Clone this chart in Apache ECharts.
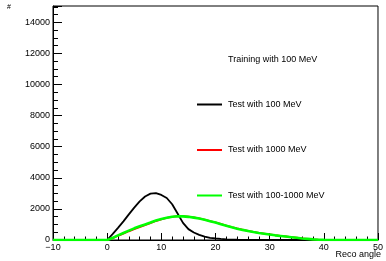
<!DOCTYPE html>
<html>
<head>
<meta charset="utf-8">
<script src="https://cdn.jsdelivr.net/npm/echarts@6/dist/echarts.min.js"></script>
<style>
  html, body { margin: 0; padding: 0; background: #fff; }
  #chart { width: 386px; height: 261px; }
</style>
</head>
<body>
<div id="chart"></div>
<script>
// bin centres, -10 .. 50
var angles = []
for (var a = -10; a <= 50; a++) angles.push(a)

// counts, one per unit of reco angle (starting at -10)
var zeros10 = [0, 0, 0, 0, 0, 0, 0, 0, 0, 0]
var test100 = zeros10.concat([
  0, 380, 780, 1200, 1650, 2080, 2480, 2800, 2980, 3020,
  2900, 2700, 2300, 1700, 1100, 700, 480, 330, 220, 140,
  100, 70, 45, 30, 20, 12, 8, 5, 3, 2,
  1, 0, 0, 0, 0, 0, 0, 0, 0, 0,
  0, 0, 0, 0, 0, 0, 0, 0, 0, 0, 0
])
var test1000 = zeros10.concat([
  0, 110, 270, 410, 560, 700, 830, 960, 1090, 1220,
  1330, 1420, 1490, 1530, 1530, 1500, 1450, 1390, 1310, 1220,
  1130, 1030, 930, 830, 740, 660, 590, 520, 460, 410,
  360, 310, 265, 225, 185, 145, 105, 75, 45, 22,
  10, 4, 1, 0, 0, 0, 0, 0, 0, 0, 0
])
var testMix = zeros10.concat([
  0, 130, 300, 450, 600, 750, 880, 1000, 1120, 1250,
  1350, 1430, 1500, 1530, 1520, 1490, 1440, 1380, 1300, 1210,
  1120, 1020, 920, 820, 730, 650, 580, 510, 450, 400,
  350, 300, 260, 220, 180, 140, 100, 70, 40, 20,
  8, 3, 1, 0, 0, 0, 0, 0, 0, 0, 0
])
var yTicks = [0, 2000, 4000, 6000, 8000, 10000, 12000, 14000]

function pairs(vals) {
  return angles.map(function(x, i) { return [x, vals[i]] })
}

var font = 'Liberation Sans, Arial, sans-serif'
var chart = echarts.init(document.getElementById('chart'))
chart.setOption({
  animation: false,
  title: {
    text: 'Training with 100 MeV',
    left: 228,
    top: 55,
    padding: 0,
    textStyle: { fontSize: 9, fontWeight: 'normal', color: '#000', fontFamily: font }
  },
  legend: {
    orient: 'vertical',
    left: 197,
    top: 100,
    padding: 0,
    itemWidth: 25,
    itemHeight: 2,
    itemGap: 36.5,
    icon: 'rect',
    textStyle: { fontSize: 9, color: '#000', fontFamily: font, padding: [0, 0, 0, 1] },
    data: ['Test with 100 MeV', 'Test with 1000 MeV', 'Test with 100-1000 MeV']
  },
  grid: {
    left: 53, right: 5, top: 6, bottom: 21,
    show: true, borderColor: '#000', borderWidth: 1
  },
  xAxis: {
    type: 'value', min: -10, max: 50, interval: 10,
    axisLine: { onZero: false, lineStyle: { color: '#000' } },
    axisTick: { inside: true, length: 7, lineStyle: { color: '#000' } },
    minorTick: { show: true, splitNumber: 5, length: 3.5, lineStyle: { color: '#000' } },
    splitLine: { show: false },
    axisLabel: {
      color: '#000', fontSize: 9, fontFamily: font, margin: 3,
      formatter: function(v) { return String(v).replace('-', '\u2212') }
    }
  },
  yAxis: {
    type: 'value', min: 0, max: 15050, interval: 2000,
    axisLine: { onZero: false, lineStyle: { color: '#000' } },
    axisTick: { inside: true, length: 9, lineStyle: { color: '#000' } },
    minorTick: { show: true, splitNumber: 4, length: 5, lineStyle: { color: '#000' } },
    splitLine: { show: false },
    axisLabel: {
      color: '#000', fontSize: 9, fontFamily: font, margin: 3, showMaxLabel: false,
      formatter: function(v) { return yTicks.indexOf(v) >= 0 ? String(v) : '' }
    }
  },
  graphic: [
    { type: 'text', left: 7, top: 4, style: { text: '#', fontSize: 7, fill: '#000', fontFamily: font } },
    { type: 'text', right: 5, top: 250, style: { text: 'Reco angle', fontSize: 9, fill: '#000', fontFamily: font } }
  ],
  series: [
    {
      name: 'Test with 100 MeV', type: 'line', showSymbol: false,
      data: pairs(test100), color: '#000', lineStyle: { width: 1.8 }
    },
    {
      name: 'Test with 1000 MeV', type: 'line', showSymbol: false,
      data: pairs(test1000), color: '#ff0000', lineStyle: { width: 1.8 }
    },
    {
      name: 'Test with 100-1000 MeV', type: 'line', showSymbol: false,
      data: pairs(testMix), color: '#00ff00', lineStyle: { width: 2.6 }
    }
  ]
})
</script>
</body>
</html>
